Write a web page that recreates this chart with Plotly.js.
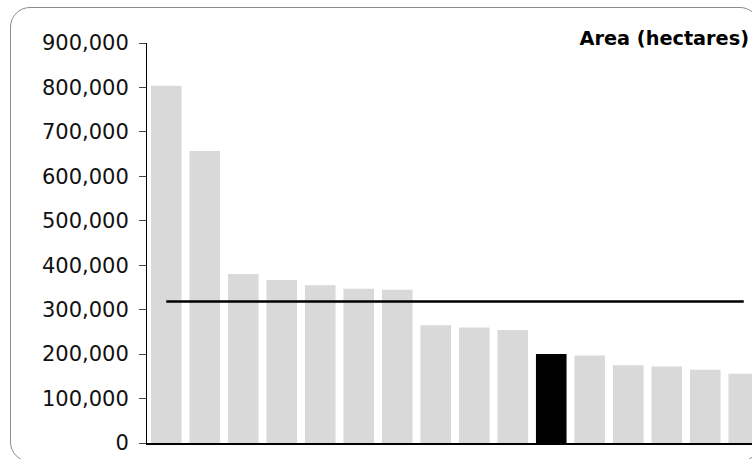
<!DOCTYPE html>
<html>
<head>
<meta charset="utf-8">
<script src="https://cdn.plot.ly/plotly-3.0.1.min.js"></script>
<style>
  html, body { margin: 0; padding: 0; width: 752px; height: 459px; overflow: hidden; background: #ffffff; }
  #frame { position: absolute; left: 9.5px; top: 7px; width: 750px; height: 455px; box-sizing: border-box;
           border: 1.5px solid #8c8c8c; border-radius: 20px; }
  #chart { position: absolute; left: 0; top: 0; width: 780px; height: 459px; }
</style>
</head>
<body>
<div id="frame"></div>
<div id="chart"></div>
<script>
// ---- data ----
const categories = ["1","2","3","4","5","6","7","8","9","10","11","12","13","14","15","16"];
const areaHectares = [804000, 657000, 380000, 367000, 355000, 347000, 345000, 265000, 260000, 254000, 200000, 197000, 175000, 172000, 165000, 156000];
const referenceValue = 318500;
const highlightIndex = 10;
const yTickValues = [0, 100000, 200000, 300000, 400000, 500000, 600000, 700000, 800000, 900000];
const titleText = "Area (hectares)";

// ---- build ----
const W = 780, H = 459;
const barColors = categories.map((c, i) => i === highlightIndex ? "#000000" : "#d9d9d9");
const lineValues = categories.map(() => referenceValue);

const traces = [
  {
    type: "bar",
    x: categories,
    y: areaHectares,
    marker: { color: barColors, line: { width: 0 } },
    hoverinfo: "x+y",
    showlegend: false
  },
  {
    type: "scatter",
    mode: "lines",
    x: categories,
    y: lineValues,
    line: { color: "#000000", width: 2.6 },
    hoverinfo: "y",
    showlegend: false
  }
];

const layout = {
  width: W,
  height: H,
  margin: { l: 146.75, r: W - 762.75, t: 42.7, b: 16 },
  paper_bgcolor: "rgba(0,0,0,0)",
  plot_bgcolor: "rgba(0,0,0,0)",
  bargap: 0.205,
  title: {
    text: "<b>" + titleText + "</b>",
    font: { family: "DejaVu Sans, Verdana, sans-serif", size: 19.3, color: "#000000" },
    xref: "container", yref: "container",
    x: 749 / W, xanchor: "right",
    y: 1 - 38 / H, yanchor: "middle"
  },
  xaxis: {
    type: "category",
    showticklabels: false,
    ticks: "",
    showgrid: false,
    zeroline: false,
    showline: true,
    linecolor: "#000000",
    linewidth: 1.5
  },
  yaxis: {
    range: [0, 900000],
    tickvals: yTickValues,
    tickformat: ",d",
    ticks: "outside",
    ticklen: 7,
    tickwidth: 1,
    tickcolor: "#444444",
    ticklabelstandoff: 6,
    showgrid: false,
    zeroline: false,
    showline: true,
    linecolor: "#000000",
    linewidth: 1,
    tickfont: { family: "DejaVu Sans, Verdana, sans-serif", size: 21, color: "#111111" }
  },
  font: { family: "DejaVu Sans, Verdana, sans-serif" }
};

Plotly.newPlot("chart", traces, layout, { displayModeBar: false, staticPlot: true });
</script>
</body>
</html>
